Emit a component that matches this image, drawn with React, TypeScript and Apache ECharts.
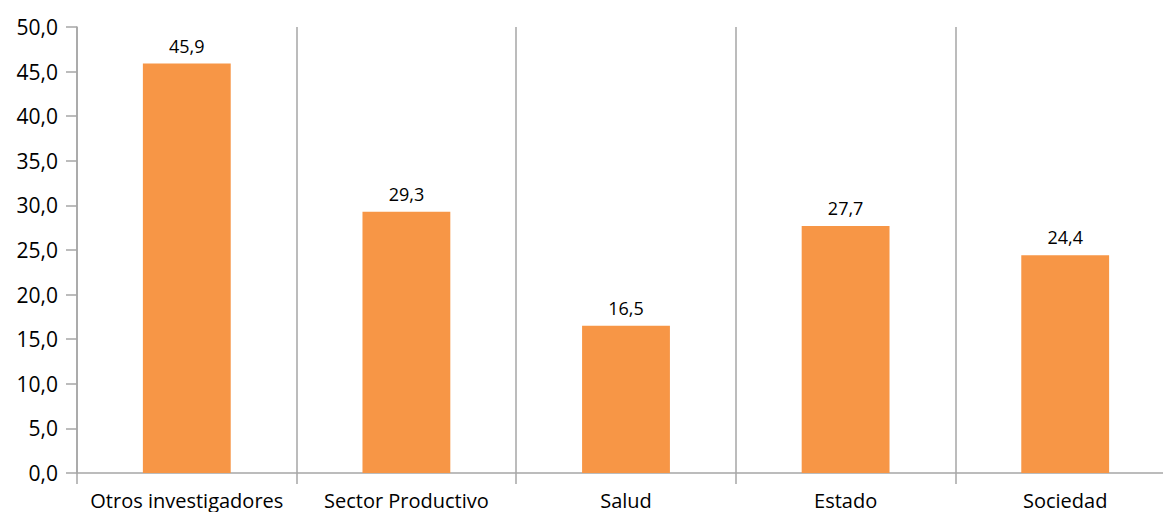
import React, { useEffect, useRef } from "react";
import * as echarts from "echarts";

const categories = ["Otros investigadores", "Sector Productivo", "Salud", "Estado", "Sociedad"];
const values = [45.9, 29.3, 16.5, 27.7, 24.4];

const fmt = (v: number) => v.toFixed(1).replace(".", ",");
const FONT = "Open Sans";

export default function App() {
  const ref = useRef<HTMLDivElement>(null);
  useEffect(() => {
    if (!ref.current) return;
    const chart = echarts.init(ref.current, undefined, { renderer: "svg" });
    chart.setOption({
      animation: false,
      grid: { left: 77, top: 27, width: 1098, bottom: 39, containLabel: false },
      xAxis: {
        type: "category",
        data: categories,
        boundaryGap: true,
        axisLine: { show: true, lineStyle: { color: "#A6A6A6", width: 1.5 } },
        axisTick: { show: true, length: 11, lineStyle: { color: "#A6A6A6", width: 1.5 } },
        splitLine: { show: true, lineStyle: { color: "#A6A6A6", width: 1.5 } },
        axisLabel: { color: "#000", fontFamily: FONT, fontSize: 20, margin: 17, interval: 0 },
      },
      yAxis: {
        type: "value",
        min: 0,
        max: 50,
        interval: 5,
        axisLine: { show: true, lineStyle: { color: "#A6A6A6", width: 1.5 } },
        axisTick: { show: true, length: 11, lineStyle: { color: "#A6A6A6", width: 1.5 } },
        splitLine: { show: false },
        axisLabel: { color: "#000", fontFamily: FONT, fontSize: 21, margin: 19, formatter: (v: number) => fmt(v) },
      },
      series: [
        {
          type: "bar",
          data: values,
          barWidth: "40%",
          itemStyle: { color: "#F79646" },
          label: {
            show: true,
            position: "top",
            distance: 9,
            color: "#000",
            fontFamily: FONT,
            fontSize: 18,
            formatter: (p: any) => fmt(p.value),
          },
        },
      ],
    });
    return () => chart.dispose();
  }, []);
  return (
    <div style={{ position: "fixed", left: 0, top: 0, width: 1163, height: 512, overflow: "hidden", background: "#fff" }}>
      <div ref={ref} style={{ width: 1200, height: 512 }} />
    </div>
  );
}
